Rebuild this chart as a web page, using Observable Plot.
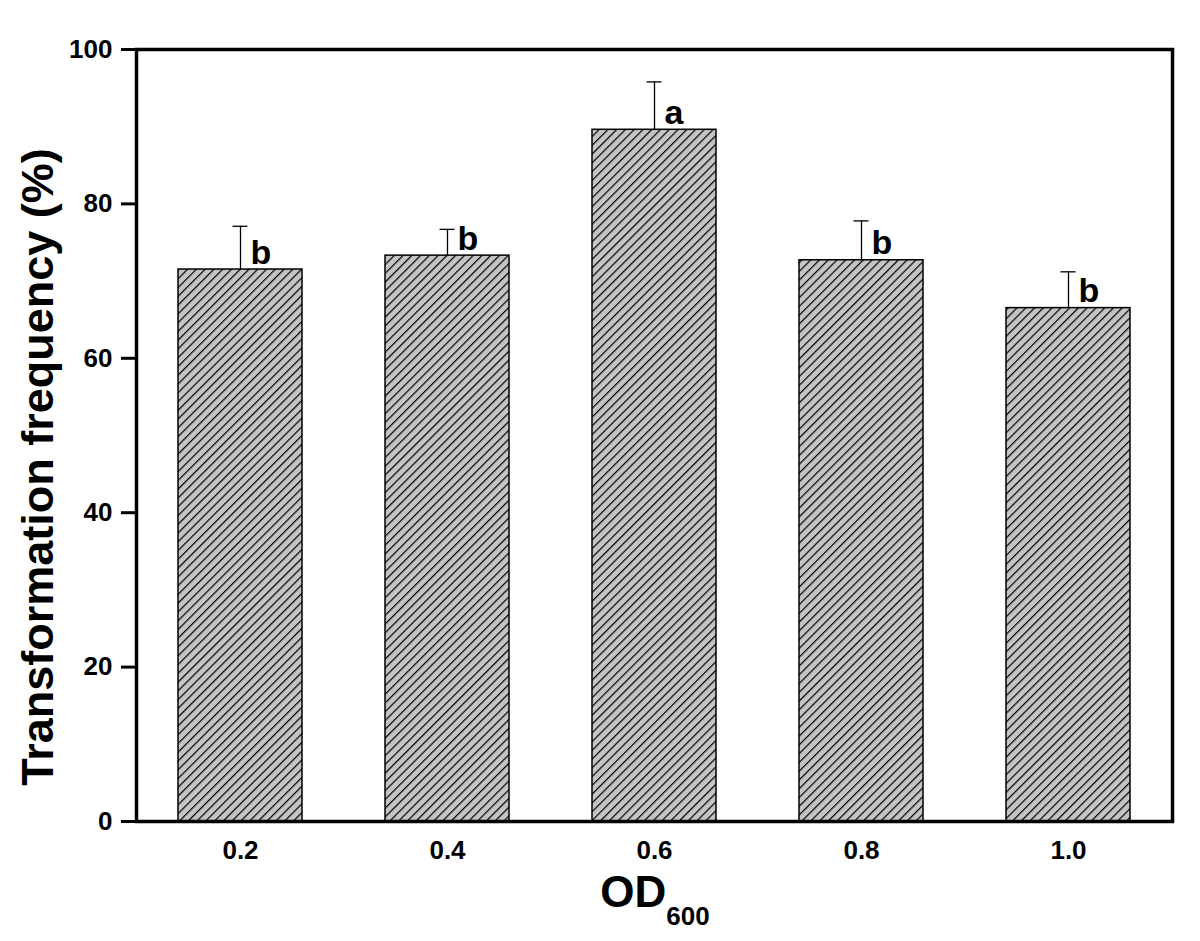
<!DOCTYPE html>
<html>
<head>
<meta charset="utf-8">
<script src="https://cdn.jsdelivr.net/npm/d3@7"></script>
<script src="https://cdn.jsdelivr.net/npm/@observablehq/plot@0.6"></script>
<style>
  html, body { margin: 0; padding: 0; background: #fff; }
</style>
</head>
<body>
<div id="chart"></div>
<script>
const categories = ["0.2", "0.4", "0.6", "0.8", "1.0"];
const values = [71.5, 73.3, 89.6, 72.7, 66.5];
const errors = [5.6, 3.4, 6.2, 5.1, 4.7];
const letters = ["b", "b", "a", "b", "b"];
const yTicks = [0, 20, 40, 60, 80, 100];

const data = categories.map((c, i) => ({
  cat: c, value: values[i], err: errors[i], top: values[i] + errors[i], letter: letters[i]
}));

const FONT = "'Liberation Sans', Arial, Helvetica, sans-serif";

const svg = Plot.plot({
  width: 1200,
  height: 941,
  marginLeft: 136,
  marginRight: 28,
  marginTop: 49,
  marginBottom: 120,
  style: { fontFamily: FONT, fontSize: "26px", fontWeight: "bold", color: "#000", background: "#fff" },
  x: { domain: categories, paddingInner: 0.4, paddingOuter: 0.2 },
  y: { domain: [0, 100] },
  marks: [
    Plot.barY(data, { x: "cat", y: "value", fill: "url(#hatch)", stroke: "#000", strokeWidth: 1.5 }),
    Plot.ruleX(data, { x: "cat", y1: "value", y2: "top", stroke: "#000", strokeWidth: 1.3 }),
    Plot.tickY(data, { x: "cat", y: "top", stroke: "#000", strokeWidth: 1.3, insetLeft: 54.5, insetRight: 54.5 }),
    Plot.text(data, { x: "cat", y: "value", text: "letter", textAnchor: "start", lineAnchor: "bottom",
      dx: 10, dy: -6, fontSize: 34, fontWeight: "bold", fill: "#000" }),
    Plot.axisY({ ticks: yTicks, tickSize: 15, tickPadding: 9, strokeWidth: 3, fontSize: 26, fontWeight: "bold", label: null, tickFormat: d => String(d) }),
    Plot.axisX({ tickSize: 0, tickPadding: 19, fontSize: 26, fontWeight: "bold", label: null }),
    Plot.frame({ stroke: "#000", strokeWidth: 3.5 })
  ]
});

const s = d3.select(svg);
const defs = s.insert("defs", ":first-child");
const pat = defs.append("pattern")
  .attr("id", "hatch")
  .attr("patternUnits", "userSpaceOnUse")
  .attr("width", 6.2)
  .attr("height", 6.2)
  .attr("patternTransform", "rotate(45)");
pat.append("rect").attr("width", 6.2).attr("height", 6.2).attr("fill", "#c4c4c4");
pat.append("line").attr("x1", 0.6).attr("y1", 0).attr("x2", 0.6).attr("y2", 6.2)
  .attr("stroke", "#000").attr("stroke-width", 1.2);

// Y axis title
s.append("text")
  .attr("transform", "translate(53,467) rotate(-90)")
  .attr("text-anchor", "middle")
  .attr("font-family", FONT)
  .attr("font-size", 45)
  .attr("font-weight", "bold")
  .attr("fill", "#000")
  .text("Transformation frequency (%)");

// X axis title with subscript
const xt = s.append("text")
  .attr("x", 655)
  .attr("y", 907)
  .attr("text-anchor", "middle")
  .attr("font-family", FONT)
  .attr("font-weight", "bold")
  .attr("fill", "#000");
xt.append("tspan").attr("font-size", 44).text("OD");
xt.append("tspan").attr("font-size", 26).attr("dy", 18).text("600");

document.getElementById("chart").appendChild(svg);
</script>
</body>
</html>
